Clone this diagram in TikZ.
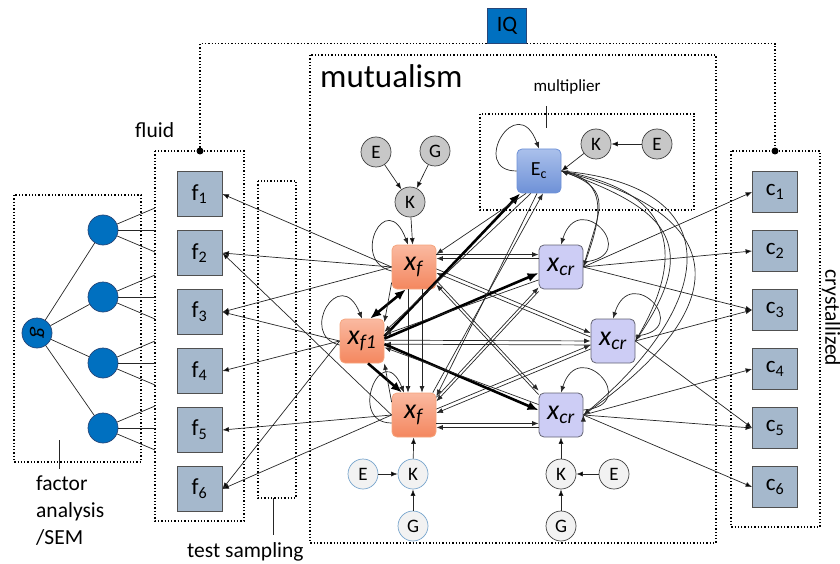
\documentclass[tikz,border=0pt]{standalone}
\usepackage{fontspec}
\setmainfont{Carlito}
\usetikzlibrary{positioning, arrows, arrows.meta}
\definecolor{facblue}{RGB}{0,112,192}
\definecolor{facline}{RGB}{40,70,120}
\definecolor{testfill}{RGB}{165,184,204}
\definecolor{testline}{RGB}{80,80,80}
\definecolor{orangetop}{RGB}{250,185,160}
\definecolor{orangebot}{RGB}{244,135,95}
\definecolor{orangeline}{RGB}{245,165,125}
\definecolor{lavender}{RGB}{205,205,245}
\definecolor{lavline}{RGB}{100,100,115}
\definecolor{ectop}{RGB}{170,192,235}
\definecolor{ecbot}{RGB}{110,145,215}
\definecolor{geneline}{RGB}{120,165,205}
\newcommand{\xlab}[1]{\textit{x}\textsubscript{\textit{#1}}}
\newcommand{\pairlink}[2]{%
  \draw[link,->] ([yshift=2pt]#1) -- ([yshift=2pt]#2);
  \draw[link,->] ([yshift=-2pt]#2) -- ([yshift=-2pt]#1);}
\tikzset{
  >={Latex[length=6.5pt,width=5pt]},
  node distance=59pt, % spacing of the test boxes in the f and c columns
  frame/.style={dotted, line width=1.3pt}, % dotted frames round the groups
  link/.style={draw=black!85, line width=0.7pt},
  strong/.style={draw=black, line width=2.6pt, >={Latex[length=11pt,width=9pt]}},
  caption/.style={font=\fontsize{21.5}{27}\selectfont, inner sep=0pt},
  testbox/.style={rectangle, draw=testline, fill=testfill, line width=0.8pt, minimum width=45pt, minimum height=45pt, inner sep=0pt, font=\fontsize{23}{26}\selectfont},
  factor/.style={circle, draw=facline, fill=facblue, line width=0.7pt, minimum size=30pt, inner sep=0pt},
  xnode/.style={rectangle, rounded corners=5pt, minimum size=44pt, inner sep=0pt, line width=0.8pt, font=\fontsize{28}{30}\selectfont},
  fluidnode/.style={xnode, draw=orangeline, top color=orangetop, bottom color=orangebot},
  crystnode/.style={xnode, draw=lavline, fill=lavender},
  gene/.style={circle, draw=black!75, line width=0.7pt, minimum size=30pt, inner sep=0pt, font=\fontsize{19}{22}\selectfont},
  darkgene/.style={gene, fill=black!22},
  lightgene/.style={gene, fill=black!5},
  bluegene/.style={gene, draw=geneline, fill=black!5}
}
\begin{document}
\begin{tikzpicture}[x=1pt, y=-1pt]
  \useasboundingbox (0,0) rectangle (840,564);

  % group frames
  \draw[frame] (14,195) rectangle (141,462);
  \draw[frame] (155,151) rectangle (244,521);
  \draw[frame] (258,181) rectangle (296,498);
  \draw[frame] (310,55) rectangle (716,543);
  \draw[frame] (480,114) rectangle (694,210);
  \draw[frame] (731,151) rectangle (820,527);

  % captions
  \node[caption, anchor=base west] (fluid_text) at (135,138) {fluid};
  \node[caption, anchor=north west, align=left] (factor_text) at (36,476) {factor\\analysis\\/SEM};
  \node[caption, anchor=base west] (sampling_text) at (187,557) {test sampling};
  \node[caption, rotate=-90] (cryst_text) at (831,318) {crystallized};
  \node[anchor=base west, inner sep=0pt, font=\fontsize{33}{36}\selectfont] (mutual_text) at (320,88) {mutualism};
  \node[inner sep=0pt, font=\fontsize{17}{20}\selectfont] (mult_text) at (567,87) {multiplier};
  \draw[link] (59,440) -- (59,469);
  \draw[link] (273,498) -- (273,535);
  \draw[link] (546,106) -- (546,128);

  % IQ on top
  \node[rectangle, draw=facline, fill=facblue, minimum width=39pt, minimum height=35pt, inner sep=0pt, font=\fontsize{22}{24}\selectfont] (iq) at (507,26) {IQ};
  \coordinate (fluid_top) at (200,151);
  \coordinate (cryst_top) at (775,151);
  \draw[frame] (fluid_top) |- (iq.south west);
  \draw[frame] (iq.south east) -| (cryst_top);
  \fill (fluid_top) circle[radius=3.5pt];
  \fill (cryst_top) circle[radius=3.5pt];

  % g and the factors
  \node[factor, rotate=-90, font=\fontsize{22}{24}\selectfont] (g) at (37,333) {\textit{g}};
  \foreach \y [count=\i] in {230,297,363,428} {
    \node[factor] (fac_\i) at (103,\y) {};
    \draw[link] (g) -- (fac_\i);
    \foreach \d in {-22,0,22}
      \draw[link] (fac_\i) -- ++(52,\d);
  }

  % fluid tests
  \node[testbox] (f_1) at (199.5,194) {f\textsubscript{1}};
  \node[testbox, below of=f_1] (f_2) {f\textsubscript{2}};
  \node[testbox, below of=f_2] (f_3) {f\textsubscript{3}};
  \node[testbox, below of=f_3] (f_4) {f\textsubscript{4}};
  \node[testbox, below of=f_4] (f_5) {f\textsubscript{5}};
  \node[testbox, below of=f_5] (f_6) {f\textsubscript{6}};

  % crystallized tests
  \node[testbox, minimum height=41pt] (c_1) at (775,192) {c\textsubscript{1}};
  \node[testbox, minimum height=41pt, below of=c_1] (c_2) {c\textsubscript{2}};
  \node[testbox, minimum height=41pt, below of=c_2] (c_3) {c\textsubscript{3}};
  \node[testbox, minimum height=41pt, below of=c_3] (c_4) {c\textsubscript{4}};
  \node[testbox, minimum height=41pt, below of=c_4] (c_5) {c\textsubscript{5}};
  \node[testbox, minimum height=41pt, below of=c_5] (c_6) {c\textsubscript{6}};

  % mutualism nodes
  \node[fluidnode] (xf_top) at (414,267) {\xlab{f}};
  \node[fluidnode] (xf_one) at (362,341) {\xlab{f1}};
  \node[fluidnode] (xf_bottom) at (414,415) {\xlab{f}};
  \node[crystnode] (xcr_top) at (561,267) {\xlab{cr}};
  \node[crystnode] (xcr_mid) at (613,341) {\xlab{cr}};
  \node[crystnode] (xcr_bottom) at (561,415) {\xlab{cr}};
  \node[xnode, draw=ecbot, top color=ectop, bottom color=ecbot, font=\fontsize{20}{22}\selectfont] (e_c) at (539,171) {E\textsubscript{c}};

  % genes and environment
  \node[darkgene] (top_e) at (376,152) {E};
  \node[darkgene] (top_g) at (435,151) {G};
  \node[darkgene] (top_k) at (410,202) {K};
  \node[darkgene] (mult_k) at (596,144) {K};
  \node[darkgene] (mult_e) at (657,144) {E};
  \node[bluegene] (low_e) at (363,474) {E};
  \node[bluegene] (low_k) at (413,474) {K};
  \node[bluegene] (low_g) at (413,526) {G};
  \node[lightgene] (right_k) at (561,474) {K};
  \node[lightgene] (right_e) at (614,474) {E};
  \node[lightgene] (right_g) at (561,526) {G};

  \draw[link, ->]
    (top_e) edge (top_k)
    (top_g) edge (top_k)
    (top_k) edge (xf_top)
    (mult_e) edge (mult_k)
    (mult_k) edge (e_c.east)
    (low_e) edge (low_k)
    (low_g) edge (low_k)
    (low_k) edge (xf_bottom)
    (right_e) edge (right_k)
    (right_g) edge (right_k)
    (right_k) edge (xcr_bottom);

  % loadings on the tests
  \draw[link, ->]
    (xf_top.west) edge (f_1.east)
    (xf_top.west) edge (f_2.east)
    (xf_top.west) edge (f_3.east)
    (xf_one.west) edge (f_3.east)
    (xf_one.west) edge (f_4.east)
    (xf_one.west) edge (f_6.east)
    (xf_bottom.west) edge (f_2.east)
    (xf_bottom.west) edge (f_5.east)
    (xf_bottom.west) edge (f_6.east)
    (xcr_top.east) edge (c_1.west)
    (xcr_top.east) edge (c_2.west)
    (xcr_top.east) edge (c_3.west)
    (xcr_mid.east) edge (c_3.west)
    (xcr_mid.east) edge (c_5.west)
    (xcr_bottom.east) edge (c_4.west)
    (xcr_bottom.east) edge (c_5.west)
    (xcr_bottom.east) edge (c_6.west);

  % self loops
  \draw[link, ->] ([yshift=-4pt]xf_top.west) .. controls +(-42,-10) and +(-22,-58) .. ([xshift=-6pt]xf_top.north);
  \draw[link, ->] ([yshift=-4pt]xf_one.west) .. controls +(-42,-10) and +(-22,-55) .. (xf_one.north);
  \draw[link, ->] ([yshift=-8pt]xf_bottom.west) .. controls +(-45,0) and +(-22,-55) .. ([xshift=-10pt]xf_bottom.north);
  \draw[link, ->] (e_c.west) .. controls +(-48,0) and +(-22,-60) .. (e_c.north);
  \draw[link, ->] ([yshift=5pt]xcr_top.east) .. controls +(60,-5) and +(18,-58) .. (xcr_top.north);
  \draw[link, ->] ([yshift=5pt]xcr_mid.east) .. controls +(60,-5) and +(18,-58) .. (xcr_mid.north);
  \draw[link, ->] ([yshift=5pt]xcr_bottom.east) .. controls +(60,-5) and +(18,-58) .. (xcr_bottom.north);

  % mutual links
  \pairlink{xf_top.25}{xcr_top.155}
  \pairlink{xf_top.-10}{xcr_mid.165}
  \pairlink{xf_top.-35}{xcr_bottom.135}
  \pairlink{xf_bottom.35}{xcr_top.-135}
  \pairlink{xf_bottom.10}{xcr_mid.-165}
  \pairlink{xf_bottom.-25}{xcr_bottom.-155}
  \pairlink{xf_one.-3}{xcr_mid.-175}
  \draw[link, ->] ([xshift=-6pt]xf_top.south) -- ([xshift=-6pt]xf_bottom.north);
  \draw[link, ->] ([xshift=8pt]xf_top.south) -- ([xshift=8pt]xf_bottom.north);
  \draw[strong, <->] (xf_one.70) -- (xf_top.250);
  \draw[link, ->] (xf_top.215) -- (xf_one.40);
  \draw[strong, ->] (xf_one.-75) -- (xf_bottom.118);
  \draw[link, ->] (xf_bottom.150) -- (xf_one.-45);
  \draw[strong, ->] (xf_one.12) -- (e_c.-130);
  \draw[link, ->] (e_c.-110) -- (xf_one.22);
  \draw[strong, ->] (xf_one.6) -- (xcr_top.-165);
  \draw[link, ->] (xcr_top.-150) -- (xf_one.16);
  \draw[strong, ->] (xf_one.-8) -- (xcr_bottom.168);
  \draw[link, ->] (xcr_bottom.155) -- (xf_one.-16);
  \draw[link, ->] (e_c.-120) -- (xf_top.30);
  \draw[link, ->] (e_c.-95) -- (xf_bottom.40);
  \draw[link, ->] (xf_bottom.50) -- (e_c.-80);

  % multiplier arcs
  \draw[link, ->] (e_c.east) to[out=-10, in=70, looseness=1.3] (xcr_top.east);
  \draw[link, ->] (xcr_top.east) to[out=75, in=-20, looseness=1.5] (e_c.east);
  \draw[link, ->] (e_c.east) to[out=-10, in=60, looseness=1.5] (xcr_mid.east);
  \draw[link, ->] (xcr_mid.east) to[out=55, in=-20, looseness=1.6] (e_c.east);
  \draw[link, ->] (e_c.east) to[out=-5, in=40, looseness=1.8] (xcr_bottom.east);
  \draw[link, ->] (xcr_bottom.east) to[out=35, in=-15, looseness=1.9] (e_c.east);
\end{tikzpicture}
\end{document}
